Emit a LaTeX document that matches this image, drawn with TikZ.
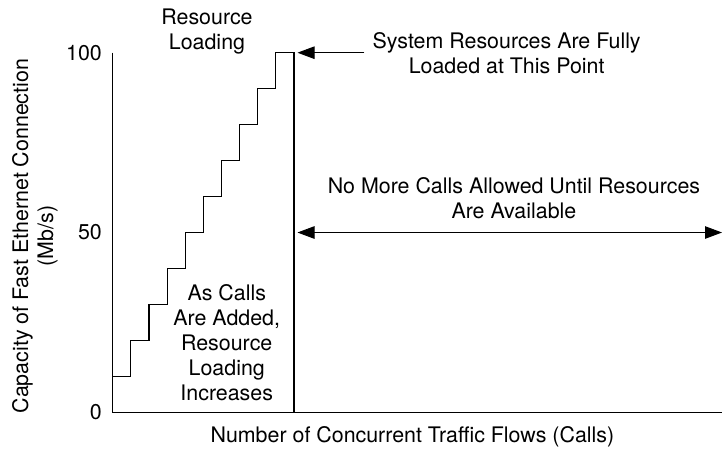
\documentclass[tikz,border=0pt]{standalone}
\usepackage{fontspec}
\setmainfont{TeX Gyre Heros}
\usetikzlibrary{arrows.meta}
\tikzset{
  lbl/.style={font=\fontsize{21.4}{25}\selectfont, align=center, inner sep=0pt},
  tick/.style={font=\fontsize{21.4}{25}\selectfont, anchor=east, inner sep=0pt},
  ax/.style={line width=1.2pt},
  pointer/.style={line width=1pt, -{Triangle[length=17pt,width=12.5pt]}}
}
\begin{document}
\begin{tikzpicture}[x=18.13pt, y=3.596pt]
  \useasboundingbox (-6.216,-10.76) rectangle (33.607,114.66);
  % axes
  \coordinate (orig) at (0,0);
  \coordinate (ytop) at (0,100);
  \coordinate (xend) at (33.607,0);
  \draw[ax] (ytop) -- (orig) -- (xend);
  \foreach \v in {0,50,100}
    \node[tick] (t\v) at (-0.59,\v) {\v};
  % staircase
  \coordinate (peak) at (10,100);
  \coordinate (full) at (10,0);
  \draw[line width=1.1pt] (0,10) foreach \i in {1,...,9} { -- (\i,{\i*10}) -- (\i,{\i*10+10}) } -- (peak) -- (full);
  % labels
  \node[lbl, rotate=90] (ylab) at (-4.29,49.0) {Capacity of Fast Ethernet Connection\\(Mb/s)};
  \node[lbl] (xlab) at (16.53,-6.87) {Number of Concurrent Traffic Flows (Calls)};
  \node[lbl] (rload) at (5.2,106.0) {Resource\\Loading};
  \node[lbl] (added) at (6.29,19.26) {As Calls\\Are Added,\\Resource\\Loading\\Increases};
  \node[lbl] (loaded) at (21.73,100) {System Resources Are Fully\\Loaded at This Point};
  \node[lbl] (nomore) at (22.13,59.6) {No More Calls Allowed Until Resources\\Are Available};
  % arrows
  \coordinate (half) at (10,50);
  \coordinate (edge) at (33.607,50);
  \draw[pointer, shorten >=3.5pt] (loaded.west) ++(-0.45,0) coordinate (from) -- (peak);
  \draw[pointer, {Triangle[length=17pt,width=12.5pt]}-{Triangle[length=17pt,width=12.5pt]}, shorten <=3.5pt] (half) -- (edge);
\end{tikzpicture}
\end{document}
